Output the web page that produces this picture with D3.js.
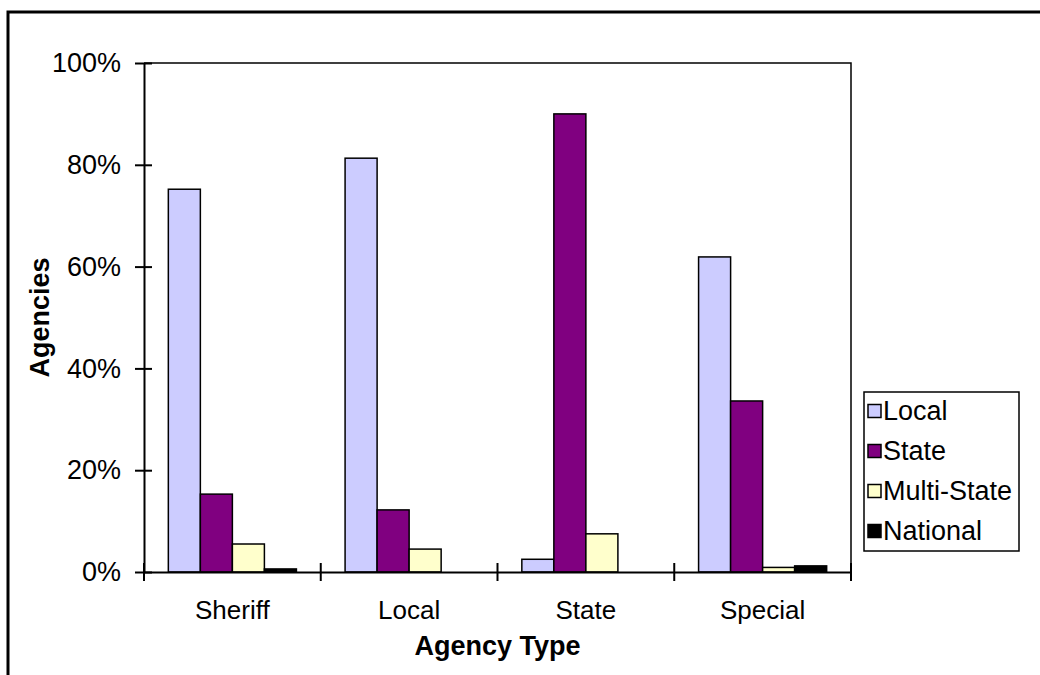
<!DOCTYPE html>
<html><head><meta charset="utf-8">
<script src="https://cdn.jsdelivr.net/npm/d3@7"></script>
<style>body{margin:0;background:#fff}svg{display:block}text{font-family:"Liberation Sans",Arial,sans-serif;fill:#000}</style>
</head><body>
<svg id="c" width="1040" height="675"></svg>
<script>
const categories = ["Sheriff", "Local", "State", "Special"];
const seriesNames = ["Local", "State", "Multi-State", "National"];
const localVals = [75.2, 81.3, 2.5, 61.9];
const stateVals = [15.3, 12.2, 90.0, 33.6];
const multiVals = [5.5, 4.5, 7.5, 0.9];
const nationalVals = [0.6, 0, 0, 1.2];
const colors = ["#CCCCFF", "#800080", "#FFFFCC", "#000000"];
const yTicks = [0, 20, 40, 60, 80, 100];

const series = [localVals, stateVals, multiVals, nationalVals];
const svg = d3.select("#c");
const L = 144, R = 851, T = 63, B = 572;
const FS = 27;

// outer frame
svg.append("rect").attr("x", 8).attr("y", 12).attr("width", 1100).attr("height", 800)
  .attr("fill", "none").attr("stroke", "#000").attr("stroke-width", 3);

const x0 = d3.scaleBand().domain(categories).range([L, R]).padding(0);
const x1 = d3.scaleBand().domain(seriesNames).range([0, x0.bandwidth()]).paddingInner(0).paddingOuter(0.76);
const y = d3.scaleLinear().domain([0, 100]).range([B, T]);

// plot border (top & right)
svg.append("path").attr("d", `M${L},${T}H${R}V${B}`).attr("fill", "none").attr("stroke", "#000").attr("stroke-width", 1.5);

// bars
categories.forEach((c, ci) => {
  seriesNames.forEach((s, si) => {
    const v = series[si][ci];
    if (v <= 0) return;
    svg.append("rect")
      .attr("x", x0(c) + x1(s)).attr("y", y(v))
      .attr("width", x1.bandwidth()).attr("height", y(0) - y(v))
      .attr("fill", colors[si]).attr("stroke", "#000").attr("stroke-width", 1.5);
  });
});

// y axis
const yAxis = svg.append("g").attr("transform", `translate(${L},0)`)
  .call(d3.axisLeft(y).tickValues(yTicks).tickFormat(d => d + "%").tickSize(0).tickPadding(23));
yAxis.select(".domain").attr("stroke", "#000").attr("stroke-width", 2);
yAxis.selectAll("text").attr("font-size", FS).style("font-family", '"Liberation Sans",Arial,sans-serif');
yAxis.selectAll(".tick").append("line").attr("x1", -9).attr("x2", 8).attr("stroke", "#000").attr("stroke-width", 2);

// x axis
const xAxis = svg.append("g").attr("transform", `translate(0,${B})`)
  .call(d3.axisBottom(x0).tickSize(0).tickPadding(30));
xAxis.select(".domain").attr("stroke", "#000").attr("stroke-width", 2);
xAxis.selectAll("text").attr("font-size", FS - 1).attr("dy", null).attr("y", 40)
  .attr("dominant-baseline", "middle").style("font-family", '"Liberation Sans",Arial,sans-serif');
const xTickPos = categories.map(c => x0(c)).concat([R]);
xAxis.selectAll(".xt").data(xTickPos).enter().append("line")
  .attr("x1", d => d).attr("x2", d => d).attr("y1", -9).attr("y2", 9)
  .attr("stroke", "#000").attr("stroke-width", 2);

// axis titles
svg.append("text").attr("x", (L + R) / 2).attr("y", 646).attr("dy", "0.35em")
  .attr("text-anchor", "middle").attr("font-size", FS).attr("font-weight", "bold").text("Agency Type");
svg.append("text").attr("transform", `translate(40,${(T + B) / 2}) rotate(-90)`).attr("dy", "0.35em")
  .attr("text-anchor", "middle").attr("font-size", FS).attr("font-weight", "bold").text("Agencies");

// legend
const lg = svg.append("g");
lg.append("rect").attr("x", 864).attr("y", 392).attr("width", 155).attr("height", 159)
  .attr("fill", "#fff").attr("stroke", "#000").attr("stroke-width", 1.5);
const rowY = [411, 451, 491, 531];
seriesNames.forEach((s, i) => {
  lg.append("rect").attr("x", 868).attr("y", rowY[i] - 6.5).attr("width", 13).attr("height", 13)
    .attr("fill", colors[i]).attr("stroke", "#000").attr("stroke-width", 1.5);
  lg.append("text").attr("x", 883).attr("y", rowY[i]).attr("dy", "0.35em")
    .attr("font-size", FS).text(s);
});
</script>
</body></html>
